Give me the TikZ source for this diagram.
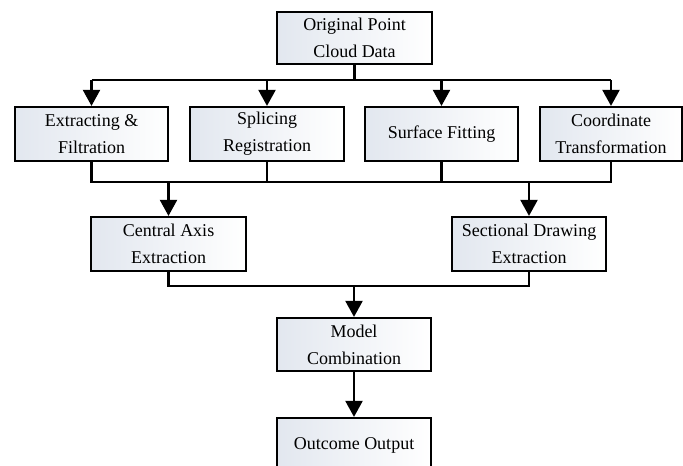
\documentclass[tikz,border=0pt]{standalone}
\usepackage{fontspec}
\setmainfont{Liberation Serif}
\usetikzlibrary{arrows.meta,positioning}
\definecolor{mist}{RGB}{226,231,239}
\tikzset{
  stage/.style={draw=black,line width=2.2pt,left color=mist,right color=white,
    minimum height=54pt,inner sep=0pt,align=center,
    font=\fontsize{18}{27}\selectfont},
  link/.style={line width=2.2pt},
  flow/.style={line width=2.2pt,-{Triangle[width=17pt,length=16pt]}}
}
\begin{document}
\begin{tikzpicture}[x=1pt,y=-1pt]
  \useasboundingbox (0,0) rectangle (683,466);
  \node[stage,minimum width=155pt,minimum height=52pt] (orig) at (354.5,38) {Original Point\\Cloud Data};
  \node[stage,minimum width=153pt] (extr) at (91.5,134) {Extracting \&\\Filtration};
  \node[stage,minimum width=154pt] (splc) at (267,134) {Splicing\\Registration};
  \node[stage,minimum width=153pt] (surf) at (441.5,134) {Surface Fitting};
  \node[stage,minimum width=142pt] (coord) at (611,134) {Coordinate\\Transformation};
  \node[stage,minimum width=155pt] (axis) at (168.5,244) {Central Axis\\Extraction};
  \node[stage,minimum width=154pt] (sect) at (529,244) {Sectional Drawing\\Extraction};
  \node[stage,minimum width=154pt,minimum height=53pt] (model) at (354,344.5) {Model\\Combination};
  \node[stage,minimum width=154pt] (out) at (354,445) {Outcome Output};

  % split into the four treatments
  \coordinate (split) at (354.5,80);
  \draw[link] (orig.south) -- (split);
  \draw[link] (extr.north |- split) -- (coord.north |- split);
  \foreach \b in {extr,splc,surf,coord}
    \draw[flow] (\b.north |- split) -- (\b.north);

  % merge towards the two extractions
  \coordinate (merge) at (0,182);
  \draw[link] (extr.south) -- (extr.south |- merge) -- (coord.south |- merge) -- (coord.south);
  \foreach \b in {splc,surf}
    \draw[link] (\b.south) -- (\b.south |- merge);
  \draw[flow] (axis.north |- merge) -- (axis.north);
  \draw[flow] (sect.north |- merge) -- (sect.north);

  % join into the model
  \coordinate (join) at (0,286);
  \draw[link] (axis.south) -- (axis.south |- join) -- (sect.south |- join) -- (sect.south);
  \draw[flow] (model.north |- join) -- (model.north);
  \draw[flow] (model) -- (out);
\end{tikzpicture}
\end{document}
